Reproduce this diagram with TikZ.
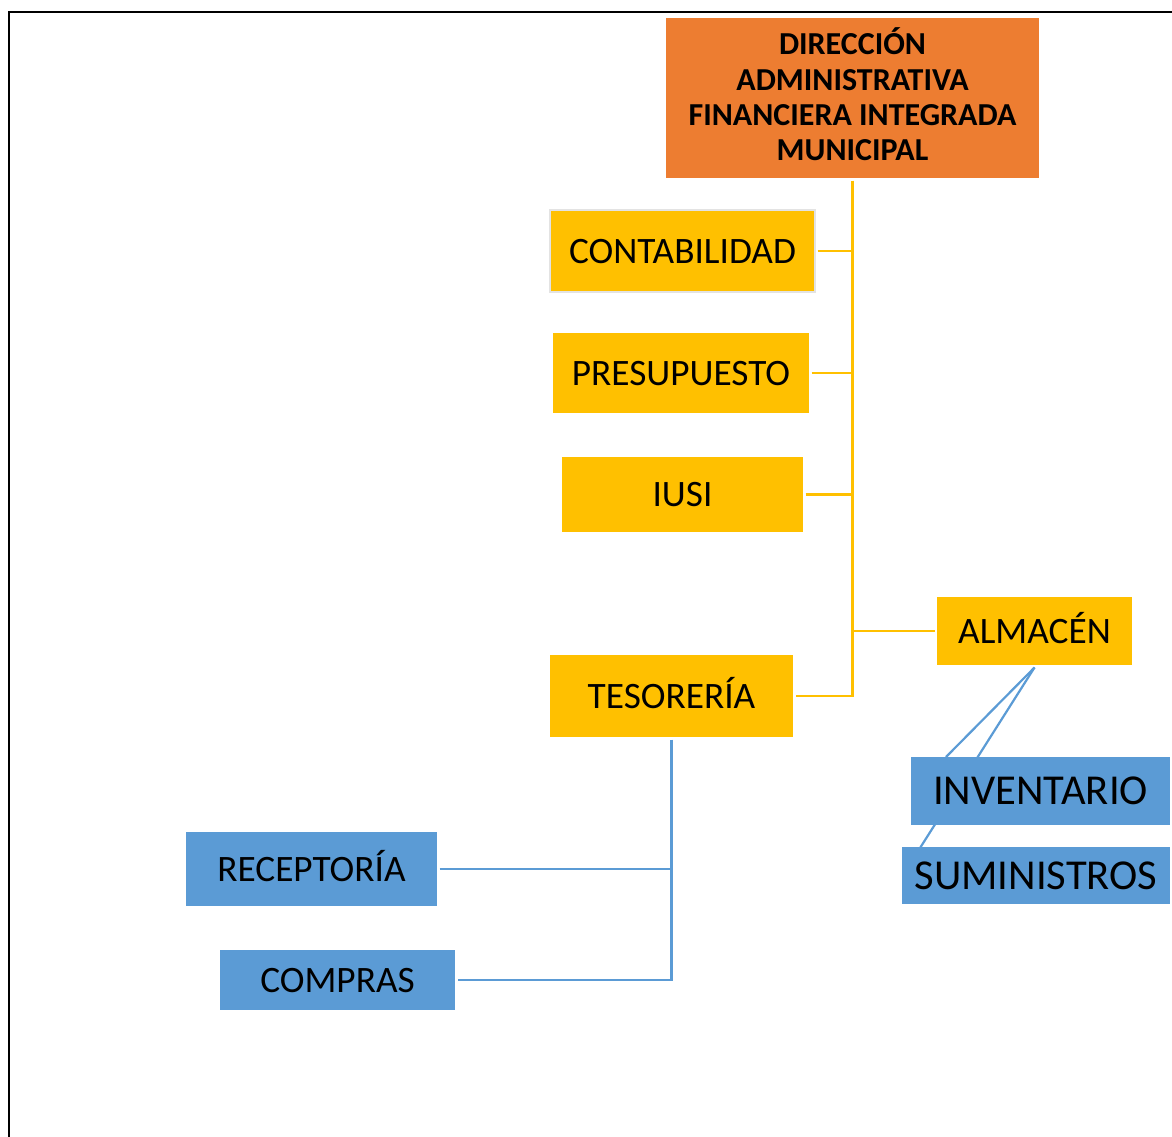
\documentclass[tikz,border=0pt]{standalone}
\usepackage{fontspec}
\setmainfont{Carlito}
\usetikzlibrary{backgrounds}
\definecolor{orangeD}{HTML}{ED7D31}
\definecolor{goldY}{HTML}{FFC000}
\definecolor{blueB}{HTML}{5B9BD5}
\definecolor{grayB}{HTML}{E3E3E3}
\tikzset{
  anybox/.style={inner sep=0pt, outer sep=2.5pt, text=black},
  ybox/.style={anybox, text height=24pt, text depth=0pt, fill=goldY, font=\fontsize{37.3}{42}\selectfont},
  bbox/.style={anybox, text height=24pt, text depth=0pt, fill=blueB, font=\fontsize{37.3}{42}\selectfont},
  bboxL/.style={anybox, text height=27.4pt, text depth=0pt, fill=blueB, font=\fontsize{42.6}{48}\selectfont},
  obox/.style={anybox, fill=orangeD, align=center, font=\bfseries\fontsize{32}{35.3}\selectfont},
  yline/.style={draw=goldY, line width=2.2pt},
  bline/.style={draw=blueB, line width=2.2pt},
}
\begin{document}
\begin{tikzpicture}[x=1pt,y=-1pt]
\useasboundingbox (0,0) rectangle (1172,1137);
\draw[line width=2.6pt] (9,1137) -- (9,12) -- (1172,12);

\node[obox, minimum width=373, minimum height=160] (dir) at (852.5,98)
  {DIRECCIÓN\\ADMINISTRATIVA\\FINANCIERA INTEGRADA\\MUNICIPAL\rule[-7pt]{0pt}{7pt}};
\node[ybox, minimum width=265, minimum height=82, draw=grayB, line width=2pt] (cont) at (682.5,251) {CONTABILIDAD};
\node[ybox, minimum width=256, minimum height=80] (pres) at (681,373) {PRESUPUESTO};
\node[ybox, minimum width=241, minimum height=75] (iusi) at (682.5,494.5) {IUSI};
\node[ybox, minimum width=195, minimum height=68] (alma) at (1034.5,631) {ALMACÉN};
\node[ybox, minimum width=243, minimum height=82] (teso) at (671.5,696) {TESORERÍA};
\node[bboxL, minimum width=259, minimum height=68] (inve) at (1040.5,791) {INVENTARIO};
\node[bboxL, minimum width=268, minimum height=57] (sumi) at (1036,875.5) {SUMINISTROS};
\node[bbox, minimum width=251, minimum height=74] (rece) at (311.5,869) {RECEPTORÍA};
\node[bbox, minimum width=235, minimum height=60] (comp) at (337.5,980) {COMPRAS};

\coordinate (invend) at (946,757);
\coordinate (sumend) at (920,848);

\begin{pgfonlayer}{background}
\draw[yline] (dir.south) -- (dir.south |- teso.east) -- (teso.east);
\draw[yline] (cont.east) -- (cont.east -| dir.south);
\draw[yline] (pres.east) -- (pres.east -| dir.south);
\draw[yline] (iusi.east) -- (iusi.east -| dir.south);
\draw[yline] (alma.west -| dir.south) -- (alma.west);
\draw[bline] (teso.south) -- (teso.south |- comp.east) -- (comp.east);
\draw[bline] (rece.east) -- (rece.east -| teso.south);
\draw[bline] (alma.south) -- (invend);
\draw[bline] (alma.south) -- (sumend);
\end{pgfonlayer}
\end{tikzpicture}
\end{document}
